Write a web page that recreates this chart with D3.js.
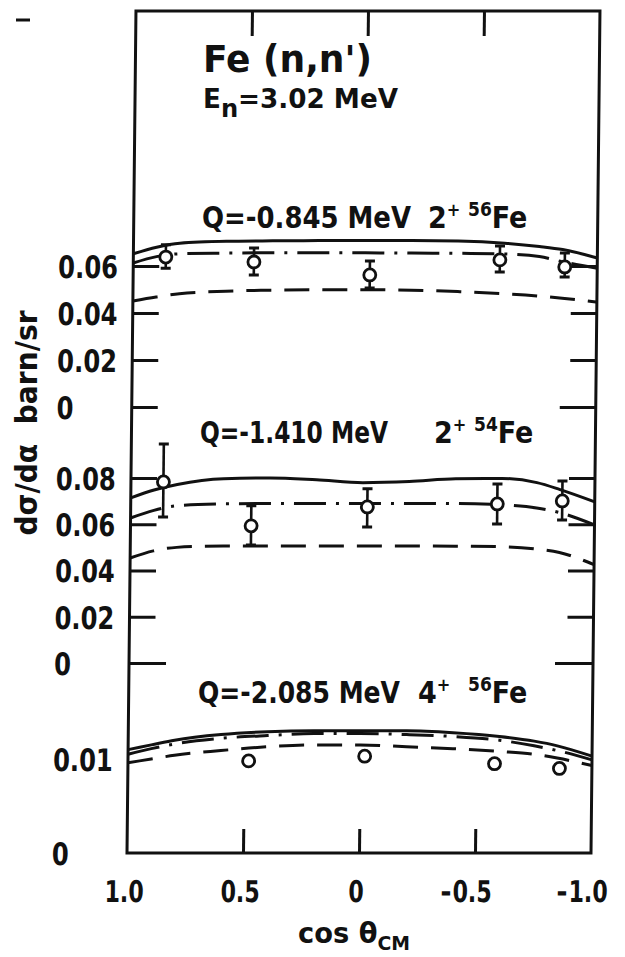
<!DOCTYPE html>
<html><head><meta charset="utf-8">
<script src="https://cdn.jsdelivr.net/npm/d3@7"></script>
<style>
body{margin:0;background:#fff}
text{font-family:"DejaVu Sans Condensed","DejaVu Sans",sans-serif;font-stretch:condensed;font-weight:bold;fill:#111}
.tick line{stroke:#111;stroke-width:3}
</style></head><body>
<svg id="c" width="625" height="957"></svg>
<script>
// ---------- data ----------
const curveCos = [1.0, 0.9, 0.8, 0.6, 0.4, 0.2, 0.0, -0.2, -0.4, -0.6, -0.75, -0.85, -1.0];
const solid1   = [0.0652,0.0680,0.0697,0.0705,0.0707,0.0708,0.0708,0.0708,0.0706,0.0697,0.0683,0.0670,0.0634];
const dashDot1 = [0.0613,0.0640,0.0652,0.0655,0.0656,0.0656,0.0656,0.0655,0.0654,0.0651,0.0640,0.0618,0.0590];
const dashed1  = [0.0451,0.0468,0.0482,0.0493,0.0497,0.0499,0.0499,0.0497,0.0491,0.0482,0.0472,0.0463,0.0446];
const solid2   = [0.0714,0.0748,0.0772,0.0797,0.0800,0.0792,0.0780,0.0785,0.0797,0.0798,0.0780,0.0750,0.0697];
const dashDot2 = [0.0627,0.0660,0.0680,0.0688,0.0690,0.0690,0.0690,0.0690,0.0690,0.0684,0.0670,0.0650,0.0597];
const dashed2  = [0.0454,0.0485,0.0500,0.0506,0.0506,0.0506,0.0506,0.0506,0.0505,0.0503,0.0493,0.0478,0.0425];
const solid3   = [0.0110,0.0115,0.0120,0.0126,0.0129,0.0130,0.0130,0.0130,0.0128,0.0124,0.0119,0.0114,0.0103];
const dashDot3 = [0.0105,0.0111,0.0116,0.0122,0.0125,0.0127,0.0127,0.0126,0.0124,0.0120,0.0114,0.0109,0.0099];
const dashed3  = [0.0096,0.0100,0.0104,0.0109,0.0113,0.0115,0.0115,0.0113,0.0111,0.0108,0.0105,0.0101,0.0093];

const pointCos  = [0.86, 0.48, -0.02, -0.58, -0.86];
const points1   = [0.0638,0.0617,0.0562,0.0626,0.0596];
const errLo1    = [0.0590,0.0562,0.0506,0.0574,0.0553];
const errHi1    = [0.0690,0.0677,0.0621,0.0685,0.0655];
const points2   = [0.0783,0.0593,0.0675,0.0688,0.0701];
const errLo2    = [0.0631,0.0510,0.0588,0.0601,0.0618];
const errHi2    = [0.0947,0.0680,0.0753,0.0774,0.0787];
const pointCos3 = [0.48, -0.02, -0.58, -0.86];
const points3   = [0.0098,0.0103,0.0095,0.0090];

const xTicks  = [1.0, 0.5, 0, -0.5, -1.0];
const yTicks1 = [0, 0.02, 0.04, 0.06];
const yTicks2 = [0, 0.02, 0.04, 0.06, 0.08];
const yTicks3 = [0, 0.01];

// ---------- layout ----------
const L = 127, R = 591, T = 11, B = 853;
const svg = d3.select("#c");
const g = svg.append("g").attr("transform", `translate(0,${B}) skewX(-0.61) translate(0,${-B})`);

const x = d3.scaleLinear().domain([1, -1]).range([L, R]);
const y1 = d3.scaleLinear().domain([0, 0.06]).range([407, 266]);
const y2 = d3.scaleLinear().domain([0, 0.08]).range([663, 478]);
const y3 = d3.scaleLinear().domain([0, 0.01]).range([B, 759]);

const fmtY = v => v === 0 ? "0" : d3.format(".2f")(v);
const fmtX = v => v === 0 ? "0" : d3.format(".1f")(Math.abs(v));

function condense(sel, k) {
  sel.each(function () {
    const w = this.getComputedTextLength();
    d3.select(this).attr("textLength", w * k).attr("lengthAdjust", "spacingAndGlyphs");
  });
}

// frame
g.append("rect").attr("x", L).attr("y", T).attr("width", R - L).attr("height", B - T)
  .attr("fill", "none").attr("stroke", "#111").attr("stroke-width", 3);

// x axes
const topAxis = g.append("g").attr("transform", `translate(0,${T})`)
  .call(d3.axisTop(x).tickValues([0.5, 0, -0.5]).tickSize(-25).tickFormat(""));
topAxis.select(".domain").remove();

const botAxis = g.append("g").attr("transform", `translate(0,${B})`)
  .call(d3.axisBottom(x).tickValues(xTicks).tickSize(-24).tickFormat(fmtX));
botAxis.select(".domain").remove();
botAxis.selectAll(".tick").filter(d => Math.abs(d) === 1).select("line").remove();
botAxis.selectAll(".tick text").attr("x", -3).attr("y", 49).attr("dy", null).style("font-size", "30px");
condense(botAxis.selectAll(".tick text"), 0.82);
botAxis.selectAll(".tick").filter(d => d < 0).each(function () {
  const t = d3.select(this).select("text");
  const w = +t.attr("textLength");
  d3.select(this).append("text").attr("x", -3 - w / 2 - 1).attr("y", 49)
    .attr("text-anchor", "end").style("font-size", "30px").text("-");
});

// y axes
function yAxis(scale, ticks, opts) {
  const la = g.append("g").attr("transform", `translate(${L},0)`)
    .call(d3.axisLeft(scale).tickValues(ticks).tickSize(-26).tickFormat(fmtY));
  la.select(".domain").remove();
  la.selectAll(".tick text").attr("x", -75).attr("dy", "0.37em")
    .attr("text-anchor", "start").style("font-size", "31px");
  condense(la.selectAll(".tick text"), 0.87);
  if (opts.noLines) la.selectAll(".tick line").remove();
  else la.selectAll(".tick").filter(d => d === 0).select("line").attr("x2", opts.zeroL);
  if (!opts.noLines) {
    const ra = g.append("g").attr("transform", `translate(${R},0)`)
      .call(d3.axisRight(scale).tickValues(ticks).tickSize(-26).tickFormat(""));
    ra.select(".domain").remove();
    ra.selectAll(".tick").filter(d => d === 0).select("line").attr("x2", -opts.zeroR);
  }
}
yAxis(y1, yTicks1, {zeroL: 26, zeroR: 36});
yAxis(y2, yTicks2, {zeroL: 37, zeroR: 38});
yAxis(y3, yTicks3, {noLines: true});

// curves
function curve(scale, vals, dash) {
  const line = d3.line().x((d, i) => x(curveCos[i])).y(d => scale(d)).curve(d3.curveMonotoneX);
  g.append("path").datum(vals).attr("d", line).attr("fill", "none")
    .attr("stroke", "#111").attr("stroke-width", 3)
    .attr("stroke-dasharray", dash);
}
const DASH = "25,13", DASHDOT = "32,10,3,10";
curve(y1, dashed1, DASH); curve(y1, dashDot1, DASHDOT); curve(y1, solid1, null);
curve(y2, dashed2, DASH); curve(y2, dashDot2, DASHDOT); curve(y2, solid2, null);
curve(y3, dashed3, DASH); curve(y3, dashDot3, DASHDOT); curve(y3, solid3, null);

// data points
function pointsWithErr(scale, cs, vals, lo, hi) {
  const pg = g.append("g");
  cs.forEach((c, i) => {
    const px = x(c);
    if (lo) {
      pg.append("line").attr("x1", px).attr("x2", px).attr("y1", scale(lo[i])).attr("y2", scale(hi[i]))
        .attr("stroke", "#111").attr("stroke-width", 2.6);
      [lo[i], hi[i]].forEach(v => pg.append("line").attr("x1", px - 5).attr("x2", px + 5)
        .attr("y1", scale(v)).attr("y2", scale(v)).attr("stroke", "#111").attr("stroke-width", 3));
    }
    pg.append("circle").attr("cx", px).attr("cy", scale(vals[i])).attr("r", 6)
      .attr("fill", "#fff").attr("stroke", "#111").attr("stroke-width", 2.8);
  });
}
pointsWithErr(y1, pointCos, points1, errLo1, errHi1);
pointsWithErr(y2, pointCos, points2, errLo2, errHi2);
pointsWithErr(y3, pointCos3, points3, null, null);

// ---------- texts ----------
svg.append("line").attr("x1", 16).attr("x2", 30).attr("y1", 20).attr("y2", 20)
  .attr("stroke", "#111").attr("stroke-width", 3);

svg.append("text").attr("x", 203).attr("y", 72).style("font-size", "37px")
  .attr("textLength", 169).attr("lengthAdjust", "spacingAndGlyphs").text("Fe\u00A0(n,n')");

const en = svg.append("text").attr("x", 203).attr("y", 108).style("font-size", "26px")
  .attr("textLength", 195).attr("lengthAdjust", "spacingAndGlyphs");
en.append("tspan").text("E");
en.append("tspan").attr("dy", 9).style("font-size", "24px").text("n");
en.append("tspan").attr("dy", -9).text("=3.02 MeV");

function qLabel(main, mainW, x0, base, spin, spinX, iso, isoX, elem) {
  svg.append("text").attr("x", x0).attr("y", base).style("font-size", "30px")
    .attr("textLength", mainW).attr("lengthAdjust", "spacingAndGlyphs").text(main);
  const s = svg.append("text").attr("x", spinX).attr("y", base).style("font-size", "30px");
  s.append("tspan").text(spin);
  s.append("tspan").attr("dy", -12).style("font-size", "18px").text("+");
  const e = svg.append("text").attr("x", isoX).attr("y", base).style("font-size", "30px");
  e.append("tspan").attr("dy", -12).style("font-size", "19px").text(iso);
  e.append("tspan").attr("dy", 12).text(elem);
}
qLabel("Q=-0.845 MeV", 209, 202, 228, "2", 428, "56", 468, "Fe");
qLabel("Q=-1.410 MeV", 188, 200, 443, "2", 434, "54", 474, "Fe");
qLabel("Q=-2.085 MeV", 202, 198, 703, "4", 418, "56", 468, "Fe");

svg.append("text").attr("transform", "translate(37,423) rotate(-90)")
  .attr("text-anchor", "middle").style("font-size", "30px")
  .attr("textLength", 225).attr("lengthAdjust", "spacingAndGlyphs")
  .text("dσ/dα\u00A0\u00A0barn/sr");

const xl = svg.append("text").attr("x", 298).attr("y", 943).style("font-size", "29px")
  .attr("textLength", 112).attr("lengthAdjust", "spacingAndGlyphs");
xl.append("tspan").text("cos θ");
xl.append("tspan").attr("dy", 7).style("font-size", "20px").text("CM");
</script>
</body></html>
